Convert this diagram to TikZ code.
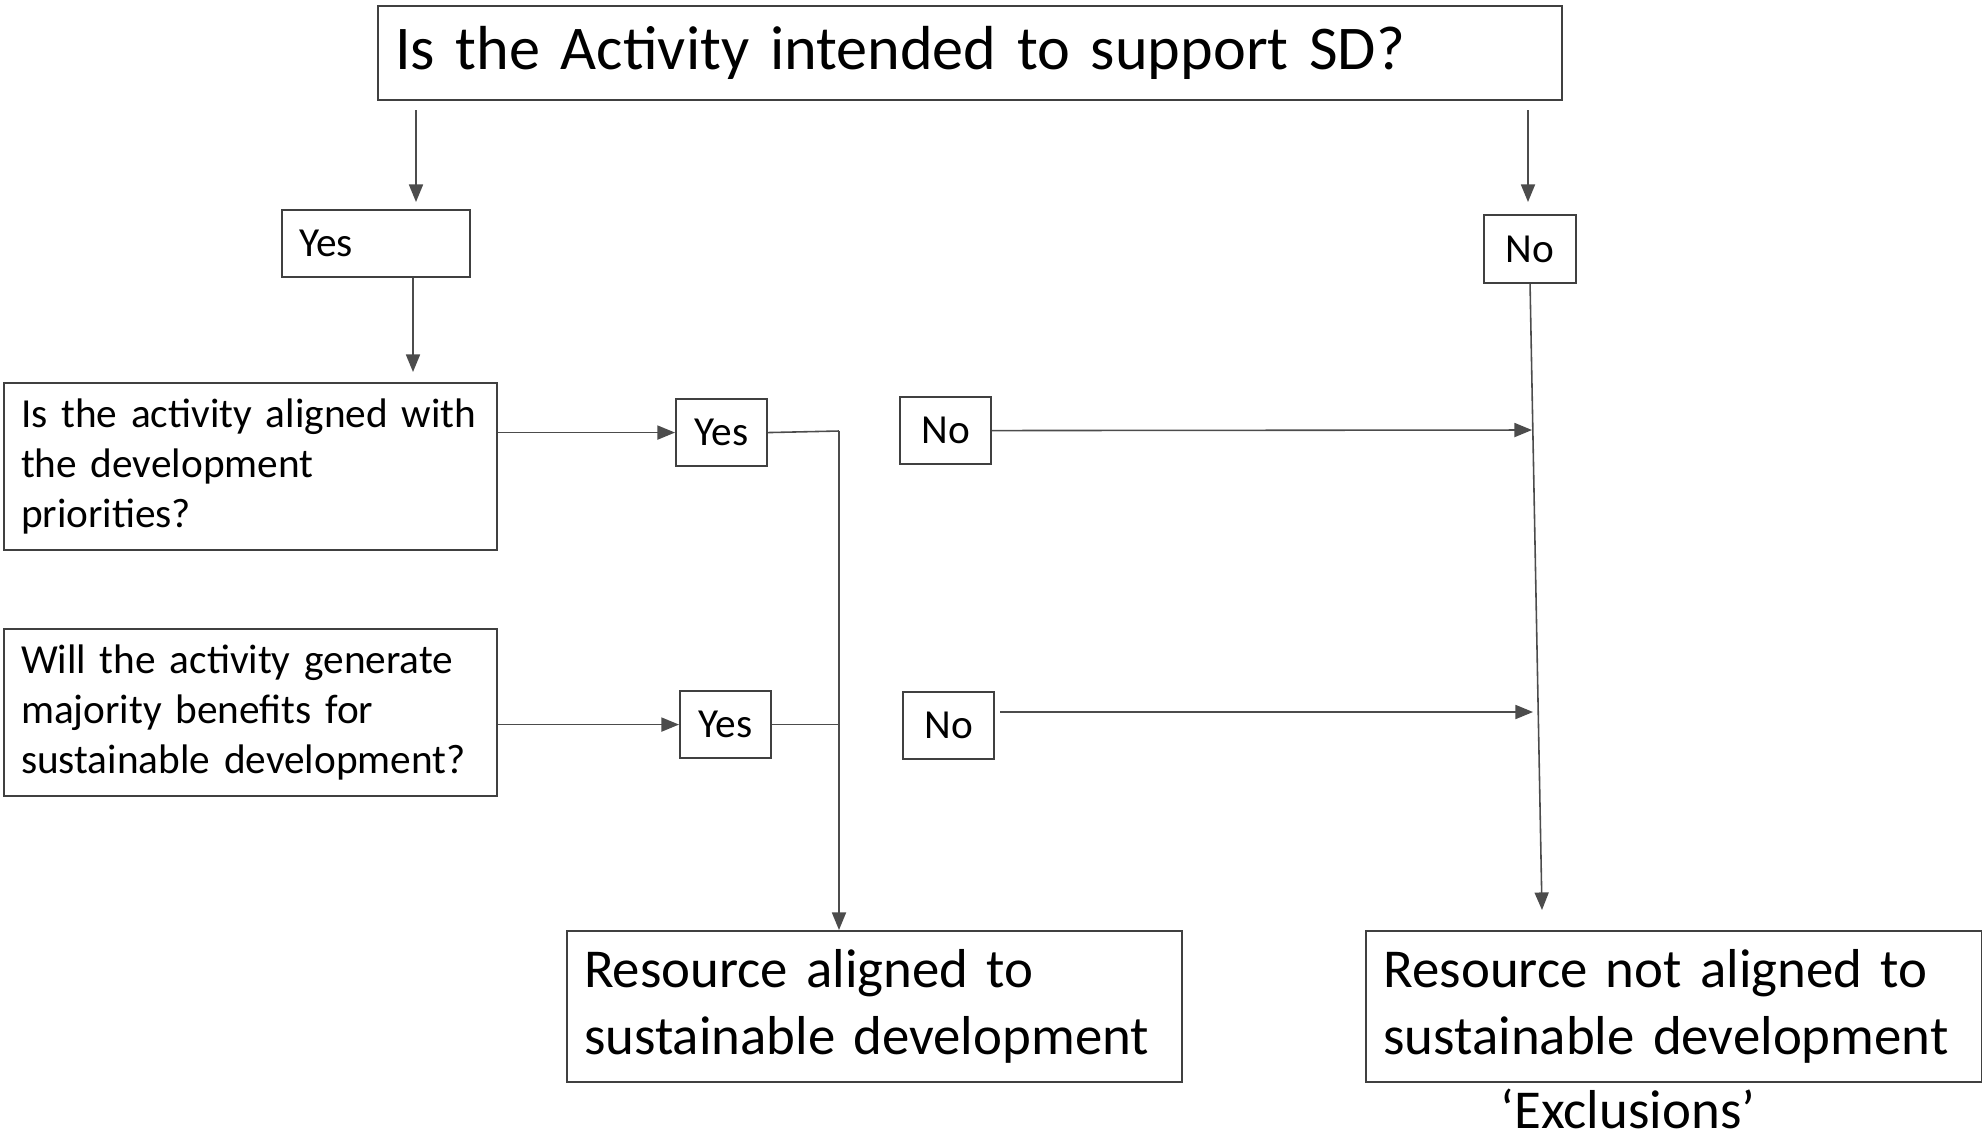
\documentclass[tikz,border=0pt]{standalone}
\usepackage{fontspec}
\setmainfont{Carlito}
\usetikzlibrary{arrows.meta,positioning}

\begin{document}
\begin{tikzpicture}[
    box/.style={draw=black!75, line width=0.6pt, rectangle, inner xsep=0.17cm, inner ysep=0pt, anchor=north west},
    bigbox/.style={box, minimum width=11.84cm, minimum height=0.94cm, text width=11.50cm, align=left, font=\fontsize{17.7}{21.5}\selectfont},
    qbox/.style={box, minimum height=1.67cm, text width=4.59cm, align=left, font=\fontsize{11.75}{14.2}\selectfont},
    resbox/.style={box, minimum height=1.51cm, text width=5.81cm, align=left, font=\fontsize{15.6}{19.1}\selectfont},
    ansbox/.style={box, inner xsep=0pt, minimum width=0.91cm, minimum height=0.67cm, align=center, font=\fontsize{11.75}{14.2}\selectfont},
    link/.style={draw=black!70, line width=0.45pt},
    arr/.style={link, -{Triangle[length=5pt, width=4pt]}}
]
    \useasboundingbox (0,0) rectangle (19.82,-11.39);

    % Main question
    \node[bigbox] (top) at (3.77,-0.05) {Is the Activity intended to support SD?};

    % First answers
    \node[box, minimum width=1.88cm, minimum height=0.67cm, text width=1.54cm, align=left, font=\fontsize{11.75}{14.2}\selectfont] (yes1) at (2.81,-2.09) {Yes};
    \node[ansbox, minimum width=0.92cm, minimum height=0.68cm] (no1) at (14.83,-2.14) {No};

    % Questions
    \node[qbox] (q1) at (0.03,-3.82) {Is the activity aligned with\\the development\\priorities?};
    \node[qbox] (q2) at (0.03,-6.28) {Will the activity generate\\majority benefits for\\sustainable development?};

    \node[ansbox] (yes2) at (6.75,-3.98) {Yes};
    \node[ansbox] (no2) at (8.99,-3.96) {No};
    \node[ansbox] (yes3) at (6.79,-6.90) {Yes};
    \node[ansbox] (no3) at (9.02,-6.91) {No};

    % Results
    \node[resbox] (resa) at (5.66,-9.30) {Resource aligned to\\sustainable development};
    \node[resbox, minimum width=6.16cm] (resb) at (13.65,-9.30) {Resource not aligned to\\sustainable development};
    \node[inner sep=0pt, font=\fontsize{15.6}{19.1}\selectfont] (excl) at (16.28,-11.09) {`Exclusions'};

    % Helper points
    \coordinate (t1) at (4.16,-1.10);
    \coordinate (t2) at (15.28,-1.10);
    \coordinate (join) at (8.39,-4.31);
    \coordinate (nostart) at (10.00,-7.12);
    \coordinate (noend) at (15.42,-9.10);

    % Draw connections
    \draw[arr] (t1) -- (t1 |- 0,-2.02);
    \draw[arr] (t2) -- (t2 |- 0,-2.02);
    \draw[arr] (yes1.south -| 4.13,0) -- (4.13,-3.72);
    \draw[arr] (q1.east |- yes2) -- (yes2.west);
    \draw[arr] (q2.east |- yes3) -- (yes3.west);
    \draw[link] (yes2.east) -- (join);
    \draw[link] (yes3.east) -- (yes3.east -| join);
    \draw[arr] (join) -- (join |- resa.north);
    \draw[arr] (no2.east) -- (15.32,-4.30);
    \draw[arr] (nostart) -- (15.33,-7.12);
    \draw[arr] (no1.south) -- (noend);

\end{tikzpicture}
\end{document}
